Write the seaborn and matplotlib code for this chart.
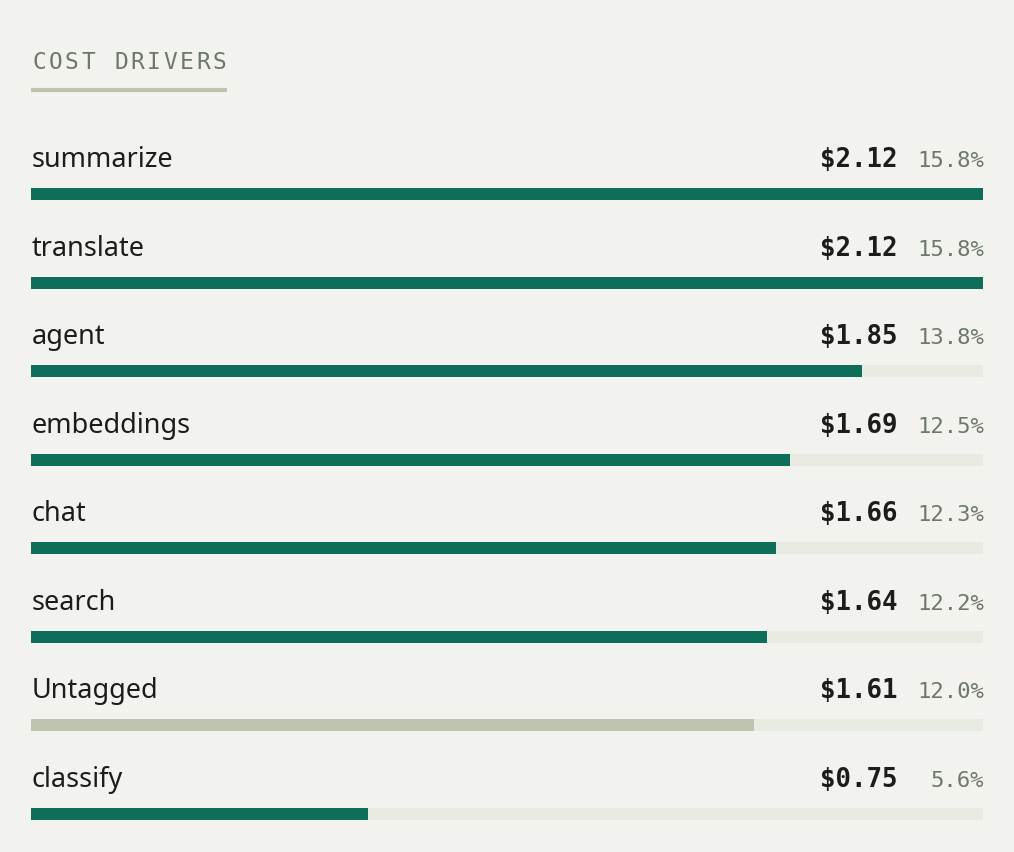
import pandas as pd
import seaborn as sns
import matplotlib.pyplot as plt
from matplotlib.transforms import blended_transform_factory

# Data
names = ["summarize", "translate", "agent", "embeddings", "chat", "search", "Untagged", "classify"]
costs = [2.12, 2.12, 1.85, 1.69, 1.66, 1.64, 1.61, 0.75]
shares = [15.8, 15.8, 13.8, 12.5, 12.3, 12.2, 12.0, 5.6]
title = "COST DRIVERS"

bg = "#f2f3ee"
track_color = "#e8ebe2"
fill_color = "#0f6e5a"
untagged_color = "#bec4b0"
ink = "#1b1d1b"
muted = "#6d786b"

sns.set_style("white")
plt.rcParams["font.family"] = ["Noto Sans", "DejaVu Sans"]

df = pd.DataFrame({"name": names, "cost": costs, "share": shares})
df["track"] = df["cost"].max()
palette = {n: (untagged_color if n == "Untagged" else fill_color) for n in names}

W, H = 1014, 852
fig = plt.figure(figsize=(W / 100, H / 100), dpi=100)
fig.patch.set_facecolor(bg)

# axes covers the bar region: x from 31px to 983px, rows spaced ~88.6px
row_px = 88.57
first_px = 194
top_px, bot_px = 100, 852
ax = fig.add_axes([31 / W, 1 - bot_px / H, 952 / W, (bot_px - top_px) / H])
ax.set_facecolor("none")

bar_w = 12 / row_px
sns.barplot(data=df, x="track", y="name", orient="h", color=track_color,
            width=bar_w, ax=ax, saturation=1, linewidth=0)
sns.barplot(data=df, x="cost", y="name", hue="name", orient="h", palette=palette,
            width=bar_w, ax=ax, saturation=1, legend=False, linewidth=0)

ax.set_xlim(0, df["cost"].max())
ax.set_ylim(len(names) - 1 + (bot_px - (first_px + row_px * (len(names) - 1))) / row_px,
            -(first_px - top_px) / row_px)
ax.axis("off")

tr = blended_transform_factory(ax.transAxes, ax.transData)
label_off = 27 / row_px
for i, row in df.iterrows():
    ax.text(0.001, i - label_off, row["name"], transform=tr, ha="left", va="baseline",
            fontsize=19.5, color=ink, fontweight="medium")
    ax.text(0.9107, i - label_off, f"${row['cost']:.2f}", transform=tr, ha="right",
            va="baseline", fontsize=18.5, fontweight="bold", color=ink,
            family="DejaVu Sans Mono")
    ax.text(1.001, i - label_off, f"{row['share']:.1f}%", transform=tr, ha="right",
            va="baseline", fontsize=16, color=muted, family="DejaVu Sans Mono")

# title with letter spacing
step = 16.4
for k, ch in enumerate(title):
    fig.text((32 + k * step) / W, 1 - 69 / H, ch, ha="left", va="baseline",
             fontsize=16.5, color=muted, family="DejaVu Sans Mono")
fig.add_artist(plt.Line2D([31 / W, 227 / W], [1 - 89.5 / H, 1 - 89.5 / H],
                          color=untagged_color, linewidth=3, solid_capstyle="butt"))

fig.savefig("out.png", dpi=100, facecolor=bg)
